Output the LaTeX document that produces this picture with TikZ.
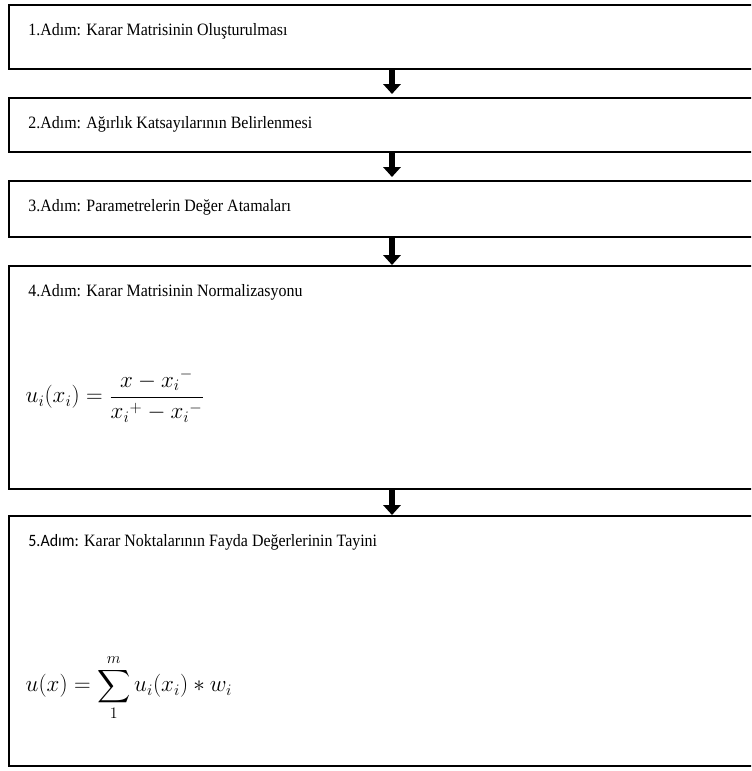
\documentclass[tikz,border=0pt]{standalone}
\usepackage{amsmath}
\usepackage{fontspec}
\setmainfont{Liberation Serif}[FakeStretch=0.92]
\newfontfamily\carlito{Carlito}[FakeStretch=0.92]
\usetikzlibrary{arrows.meta,positioning}

\begin{document}
\begin{tikzpicture}[x=0.75pt, y=-0.75pt,
  stepbox/.style={rectangle, draw=black, line width=1.3pt, anchor=north,
                  minimum width=574.5pt},
  steptext/.style={anchor=base west, inner sep=0pt, xshift=15pt, yshift=-23.25pt,
                   font=\fontsize{13}{15.5}\selectfont},
  formula/.style={anchor=west, inner sep=0pt, xshift=13pt,
                  font=\fontsize{17}{20}\selectfont},
  flowarrow/.style={line width=4.5pt, -{Triangle[width=13pt,length=7.5pt]}}
]
  \useasboundingbox (0,0) rectangle (751,771);
  \clip (0,0) rectangle (751,771);

  % Step boxes (they run past the right edge)
  \node[stepbox, minimum height=48pt]     (step1) at (392,4)   {};
  \node[stepbox, minimum height=40.5pt]   (step2) at (392,97)  {};
  \node[stepbox, minimum height=42pt]     (step3) at (392,180) {};
  \node[stepbox, minimum height=167.25pt] (step4) at (392,265) {};
  \node[stepbox, minimum height=187.5pt]  (step5) at (392,515) {};

  % Step titles
  \node[steptext] (title1) at (step1.north west) {1.Adım: Karar Matrisinin Oluşturulması};
  \node[steptext] (title2) at (step2.north west) {2.Adım: Ağırlık Katsayılarının Belirlenmesi};
  \node[steptext] (title3) at (step3.north west) {3.Adım: Parametrelerin Değer Atamaları};
  \node[steptext] (title4) at (step4.north west) {4.Adım: Karar Matrisinin Normalizasyonu};
  \node[steptext] (title5) at (step5.north west) {{\carlito 5.Adım:} Karar Noktalarının Fayda Değerlerinin Tayini};

  % Formulas
  \node[formula, yshift=-13.9pt] (norm) at (step4.west)
    {$\displaystyle u_i(x_i)=\frac{x-{x_i}^{-}}{{x_i}^{+}-{x_i}^{-}}$};
  \node[formula, yshift=-35pt] (util) at (step5.west)
    {$\displaystyle u(x)=\sum_{1}^{m}u_i(x_i)*w_i$};

  % Flow arrows
  \draw[flowarrow, shorten >=2.25pt] (step1.south) -- (step2.north);
  \draw[flowarrow, shorten >=2.25pt] (step2.south) -- (step3.north);
  \draw[flowarrow]                   (step3.south) -- (step4.north);
  \draw[flowarrow]                   (step4.south) -- (step5.north);
\end{tikzpicture}
\end{document}
